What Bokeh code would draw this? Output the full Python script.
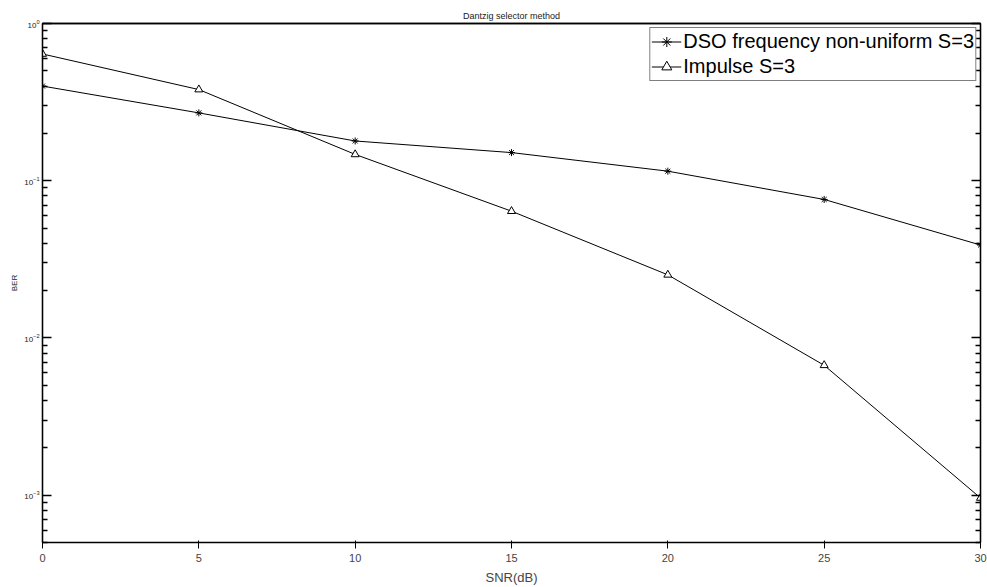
from bokeh.plotting import figure
from bokeh.models import Range1d, FixedTicker, LinearAxis, LogAxis
from bokeh.embed import file_html
from bokeh.resources import INLINE

snr = [0, 5, 10, 15, 20, 25, 30]
ber_dso = [0.40, 0.27, 0.179, 0.151, 0.115, 0.076, 0.039]
ber_imp = [0.64, 0.38, 0.147, 0.064, 0.0252, 0.0067, 0.00096]
x_ticks = [0, 5, 10, 15, 20, 25, 30]
y_major = [1e-3, 1e-2, 1e-1, 1.0]
y_minor = [k * 10.0 ** e for e in range(-4, 0) for k in range(2, 10)]

FONT = "Liberation Sans"

p = figure(width=987, height=587, output_backend="svg", toolbar_location=None,
           y_axis_type="log", x_range=Range1d(0, 30), y_range=Range1d(5e-4, 1),
           title="Dantzig selector method",
           min_border_left=42, min_border_right=7, min_border_top=23, min_border_bottom=29)

p.title.align = "center"
p.title.text_font = FONT
p.title.text_font_size = "9px"
p.title.text_font_style = "normal"
p.title.text_color = "#222222"
p.title.standoff = 5

p.grid.visible = False
p.outline_line_color = "black"
p.outline_line_width = 1.3
p.background_fill_color = "white"

xt = FixedTicker(ticks=x_ticks)
yt = FixedTicker(ticks=y_major, minor_ticks=y_minor)

p.xaxis[0].ticker = xt
p.xaxis[0].axis_label = "SNR(dB)"
p.yaxis[0].ticker = yt
p.yaxis[0].axis_label = "BER"

top = LinearAxis(ticker=xt, major_label_text_font_size="1px", major_label_text_alpha=0,
                 major_label_standoff=0)
right = LogAxis(ticker=yt, major_label_text_font_size="1px", major_label_text_alpha=0,
                major_label_standoff=0)
p.add_layout(top, "above")
p.add_layout(right, "right")

for ax in [p.xaxis[0], p.yaxis[0], top, right]:
    ax.major_tick_in = 9
    ax.major_tick_out = 0
    ax.minor_tick_in = 5
    ax.minor_tick_out = 0
    ax.axis_line_color = "black"
    ax.axis_line_width = 1.3
    ax.major_tick_line_color = "black"
    ax.minor_tick_line_color = "black"
    ax.major_tick_line_width = 1.3
    ax.minor_tick_line_width = 1.3
    ax.major_label_text_font = FONT
    ax.axis_label_text_font = FONT
    ax.axis_label_text_font_size = "8px"
    ax.axis_label_text_color = "#222222"
    ax.major_label_text_color = "#222222"

p.xaxis[0].major_tick_in = 0
p.xaxis[0].minor_tick_in = 0
p.xaxis[0].major_label_text_font_size = "8px"
p.xaxis[0].major_label_standoff = 3
p.xaxis[0].axis_label_standoff = 1
p.yaxis[0].major_label_text_font_size = "8px"
p.yaxis[0].major_label_standoff = 3
p.yaxis[0].axis_label_standoff = 2
p.xaxis.axis_label_text_font_style = "normal"
p.yaxis.axis_label_text_font_style = "normal"

p.line(snr, ber_dso, line_color="black", line_width=1, legend_label="DSO frequency non-uniform S=3")
p.scatter(snr, ber_dso, marker="asterisk", size=7, line_color="black", line_width=1,
          legend_label="DSO frequency non-uniform S=3")
p.line(snr, ber_imp, line_color="black", line_width=1, legend_label="Impulse S=3")
p.scatter(snr, ber_imp, marker="triangle", size=8, line_color="black", fill_color="white",
          line_width=1, legend_label="Impulse S=3")

lg = p.legend[0]
lg.location = "top_right"
lg.margin = 4
lg.padding = 1
lg.spacing = 0
lg.label_height = 25
lg.glyph_height = 25
lg.glyph_width = 30
lg.label_standoff = 2
lg.label_text_font = FONT
lg.label_text_font_size = "20px"
lg.label_text_color = "black"
lg.border_line_color = "black"
lg.border_line_width = 1.2
lg.background_fill_alpha = 1.0

open("out.html", "w").write(file_html(p, INLINE))
